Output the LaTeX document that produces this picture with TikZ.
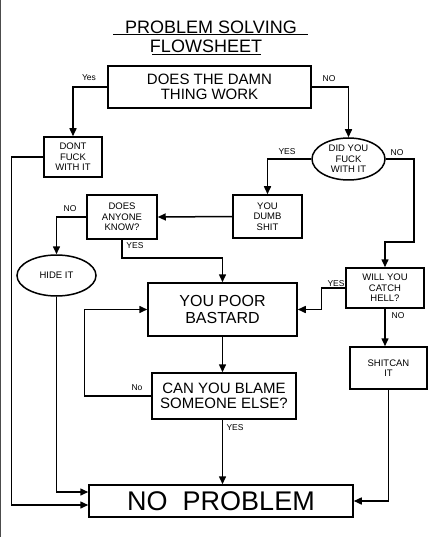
\documentclass[tikz,border=0pt]{standalone}
\usepackage{fontspec}
\setmainfont{Liberation Sans}
\usetikzlibrary{arrows.meta,shapes.geometric}

\begin{document}
\begin{tikzpicture}[x=1pt,y=-1pt,line width=1.5pt,
		>={Triangle[length=8pt,width=7pt]},
		box/.style={draw,rectangle,align=center,inner sep=0pt},
		oval/.style={draw,ellipse,align=center,inner sep=0pt},
		small/.style={font=\fontsize{9.5}{10.5}\selectfont},
		big/.style={font=\fontsize{15}{15}\selectfont},
		lbl/.style={font=\fontsize{8.5}{8.5}\selectfont,inner sep=0pt}]

		\useasboundingbox (0,0) rectangle (438,537);
		\draw[line width=1pt,black!70] (0.6,0) -- (0.6,537);

		\node[font=\fontsize{18}{18}\selectfont,inner sep=0pt] at (211,27) (t1) {PROBLEM SOLVING};
		\node[font=\fontsize{18}{18}\selectfont,inner sep=0pt] at (206,46) (t2) {FLOWSHEET};
		\draw[line width=1pt] (113,35) -- (308,35);
		\draw[line width=1pt] (152,55) -- (261,55);

		\node[box,big,minimum width=203pt,minimum height=42pt] at (209.5,87) (work) {DOES THE DAMN\\THING WORK};
		\node[box,small,minimum width=58pt,minimum height=40pt] at (73,157) (dont) {DONT\\FUCK\\WITH IT};
		\node[oval,small,minimum width=73pt,minimum height=42pt] at (348.5,159) (did) {DID YOU\\FUCK\\WITH IT};
		\node[box,small,minimum width=69pt,minimum height=43pt] at (267.5,216.5) (dumb) {YOU\\DUMB\\SHIT};
		\node[box,small,minimum width=70pt,minimum height=44pt] at (122,217) (anyone) {DOES\\ANYONE\\KNOW?};
		\node[oval,small,minimum width=79pt,minimum height=41pt] at (56.5,275.5) (hide) {HIDE IT};
		\node[box,font=\fontsize{16}{17}\selectfont,minimum width=149pt,minimum height=53pt] at (222.5,309.5) (poor) {YOU POOR\\BASTARD};
		\node[box,small,minimum width=78pt,minimum height=40pt] at (385,288) (hell) {WILL YOU\\CATCH\\HELL?};
		\node[box,small,minimum width=77pt,minimum height=42pt] at (388.5,368) (can) {SHITCAN\\IT};
		\node[box,big,minimum width=144pt,minimum height=46pt] at (224,396) (blame) {CAN YOU BLAME\\SOMEONE ELSE?};
		\node[box,font=\fontsize{27}{27}\selectfont,minimum width=264pt,minimum height=32pt] at (221,501) (noprob) {NO\ \ PROBLEM};

		\node[lbl] at (89,78) (l1) {Yes};
		\node[lbl] at (329,79) (l2) {NO};
		\node[lbl] at (287,152) (l3) {YES};
		\node[lbl] at (397,153) (l4) {NO};
		\node[lbl] at (70,209) (l5) {NO};
		\node[lbl] at (135,246) (l6) {YES};
		\node[lbl] at (336,284) (l7) {YES};
		\node[lbl] at (398,316) (l8) {NO};
		\node[lbl] at (137,388) (l9) {No};
		\node[lbl] at (235,428) (l10) {YES};

		\draw[->] (work.west) -| (dont.north);
		\draw[->] (work.east) -| (did.north);

		\draw[->] (did.west) -| (dumb.north);
		\draw[->] (did.east) -| (414,242) -| (hell.north);

		\draw[->] (dumb.west) -- (anyone.east);
		\draw[->] (anyone.west) -| (hide.north);
		\draw[->] (anyone.south) -- ++(0,18) -| (poor.north);

		\draw[->] (poor.south) -- (poor.south |- blame.north);
		\draw[->] (blame.south -| poor.south) -- (poor.south |- noprob.north);
		\draw[->] (blame.west) -- ++(-67,0) |- (poor.west);

		\draw[->] (hell.west) -- ++(-24,0) |- (poor.east);
		\draw[->] (hell.south) -- (hell.south |- can.north);
		\draw[->] (can.south) |- (noprob.east);

		\draw[->] (dont.west) -- ++(-32,0) |- ([yshift=-4pt]noprob.west);
		\draw[->] (hide.south) |- ([yshift=9pt]noprob.west);
	\end{tikzpicture}
\end{document}
